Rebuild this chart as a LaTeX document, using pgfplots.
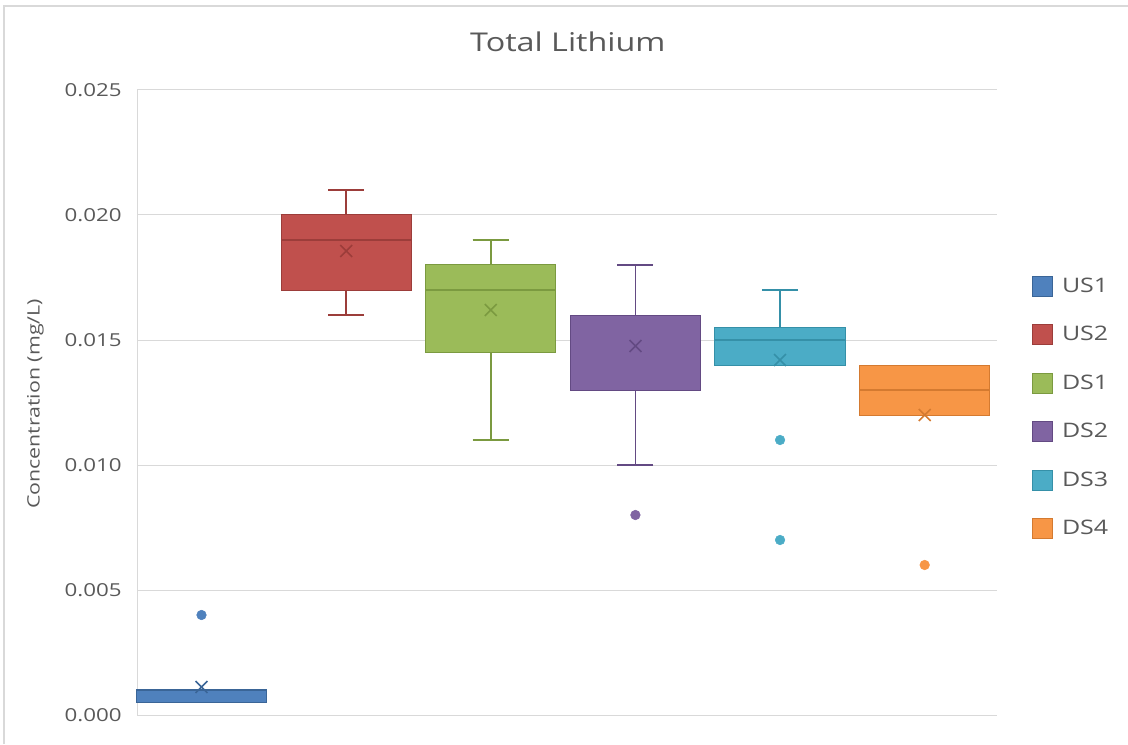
\documentclass[border=0pt]{standalone}
\usepackage{fontspec}
\setmainfont{Open Sans}[FakeStretch=1.25]
\usepackage{pgfplots}
\pgfplotsset{compat=1.18}
\usepgfplotslibrary{statistics}
\definecolor{txt}{HTML}{595959}
\definecolor{gridc}{HTML}{D9D9D9}
\definecolor{cA}{HTML}{4F81BD}\definecolor{cAd}{HTML}{3A6597}
\definecolor{cB}{HTML}{C0504D}\definecolor{cBd}{HTML}{9C3D3A}
\definecolor{cC}{HTML}{9BBB59}\definecolor{cCd}{HTML}{7B9A40}
\definecolor{cD}{HTML}{8064A2}\definecolor{cDd}{HTML}{634A83}
\definecolor{cE}{HTML}{4BACC6}\definecolor{cEd}{HTML}{3590A8}
\definecolor{cF}{HTML}{F79646}\definecolor{cFd}{HTML}{D47A30}
% values are in thousandths of mg/L; tick labels show mg/L
\pgfplotsset{
  meanmk/.style={forget plot, only marks, mark=x, mark size=6.3pt, draw=#1, mark options={line width=1.2pt, draw=#1}},
  outmk/.style={forget plot, only marks, mark=*, mark size=3.6pt, mark options={draw=#1, fill=#1}},
  legsq/.style n args={2}{legend image code/.code={\draw[fill=#1, draw=#2, line width=0.75pt] (0pt,-7.5pt) rectangle (15pt,7.5pt);}},
}
\begin{document}
\begin{tikzpicture}
\useasboundingbox (0,0) rectangle (846pt,558pt);
\draw[gridc, line width=1.5pt] (3pt,0) -- (3pt,553.5pt) -- (846pt,553.5pt);
\begin{axis}[
  at={(102.75pt,21.75pt)}, anchor=south west,
  scale only axis, width=645pt, height=468.75pt,
  xmin=-0.446, xmax=5.5, ymin=0, ymax=25,
  ytick={0,5,10,15,20,25},
  yticklabels={0.000,0.005,0.010,0.015,0.020,0.025},
  yticklabel style={font=\fontsize{13.4}{16}\selectfont, text=txt, anchor=east, xshift=-8pt},
  xtick=\empty,
  ymajorgrids, grid style={draw=gridc, line width=0.75pt},
  axis x line*=bottom, axis y line*=left,
  axis line style={draw=gridc, line width=0.75pt, -},
  major tick length=0pt,
  title={Total Lithium},
  title style={at={(axis description cs:0.501,1.064)}, anchor=center, font=\fontsize{19.4}{23}\selectfont, text=txt},
  ylabel={Concentration (mg/L)},
  ylabel style={at={(axis description cs:-0.118,0.4976)}, anchor=center, font=\fontsize{12.8}{15}\selectfont, text=txt},
  legend style={at={(axis description cs:1.04,0.704)}, anchor=north west, draw=none, fill=none,
    font=\fontsize{15}{18}\selectfont, text=txt, row sep=20pt, inner sep=0pt,
    /tikz/every odd column/.append style={column sep=5pt}},
  legend cell align=left,
  clip=false,
  boxplot/draw direction=y,
  boxplot/box extend=0.9,
  boxplot/whisker extend=0.25,
]
\addlegendimage{legsq={cA}{cAd}}\addlegendentry{US1}
\addlegendimage{legsq={cB}{cBd}}\addlegendentry{US2}
\addlegendimage{legsq={cC}{cCd}}\addlegendentry{DS1}
\addlegendimage{legsq={cD}{cDd}}\addlegendentry{DS2}
\addlegendimage{legsq={cE}{cEd}}\addlegendentry{DS3}
\addlegendimage{legsq={cF}{cFd}}\addlegendentry{DS4}

% boxes (values x 0.001 mg/L)
\addplot[forget plot, draw=cAd, fill=cA, line width=0.75pt,
  boxplot/draw direction=y, boxplot/whisker extend=0,
  boxplot/every median/.style={draw=cAd, line width=1.1pt},
  boxplot/every whisker/.style={draw=cAd, line width=1.1pt},
  boxplot prepared={draw position=0, lower whisker=0.5, lower quartile=0.5, median=1, upper quartile=1, upper whisker=1}]
  coordinates {};
\addplot[forget plot, draw=cBd, fill=cB, line width=0.75pt,
  boxplot/draw direction=y,
  boxplot/every median/.style={draw=cBd, line width=1.1pt},
  boxplot/every whisker/.style={draw=cBd, line width=1.1pt},
  boxplot prepared={draw position=1, lower whisker=16, lower quartile=17, median=19, upper quartile=20, upper whisker=21}]
  coordinates {};
\addplot[forget plot, draw=cCd, fill=cC, line width=0.75pt,
  boxplot/draw direction=y,
  boxplot/every median/.style={draw=cCd, line width=1.1pt},
  boxplot/every whisker/.style={draw=cCd, line width=1.1pt},
  boxplot prepared={draw position=2, lower whisker=11, lower quartile=14.5, median=17, upper quartile=18, upper whisker=19}]
  coordinates {};
\addplot[forget plot, draw=cDd, fill=cD, line width=0.75pt,
  boxplot/draw direction=y,
  boxplot/every median/.style={draw=cDd, line width=0.75pt},
  boxplot/every whisker/.style={draw=cDd, line width=1.1pt},
  boxplot prepared={draw position=3, lower whisker=10, lower quartile=13, median=16, upper quartile=16, upper whisker=18}]
  coordinates {};
\addplot[forget plot, draw=cEd, fill=cE, line width=0.75pt,
  boxplot/draw direction=y,
  boxplot/every median/.style={draw=cEd, line width=1.1pt},
  boxplot/every whisker/.style={draw=cEd, line width=1.1pt},
  boxplot prepared={draw position=4, lower whisker=14, lower quartile=14, median=15, upper quartile=15.5, upper whisker=17}]
  coordinates {};
\addplot[forget plot, draw=cFd, fill=cF, line width=0.75pt,
  boxplot/draw direction=y, boxplot/whisker extend=0,
  boxplot/every median/.style={draw=cFd, line width=1.1pt},
  boxplot/every whisker/.style={draw=cFd, line width=1.1pt},
  boxplot prepared={draw position=5, lower whisker=12, lower quartile=12, median=13, upper quartile=14, upper whisker=14}]
  coordinates {};

% means
\addplot[meanmk=cAd] coordinates {(0,1.12)};
\addplot[meanmk=cBd] coordinates {(1,18.56)};
\addplot[meanmk=cCd] coordinates {(2,16.2)};
\addplot[meanmk=cDd] coordinates {(3,14.76)};
\addplot[meanmk=cEd] coordinates {(4,14.2)};
\addplot[meanmk=cFd] coordinates {(5,12.0)};

% outliers
\addplot[outmk=cA] coordinates {(0,4)};
\addplot[outmk=cD] coordinates {(3,8)};
\addplot[outmk=cE] coordinates {(4,11) (4,7)};
\addplot[outmk=cF] coordinates {(5,6)};
\end{axis}
\end{tikzpicture}
\end{document}
